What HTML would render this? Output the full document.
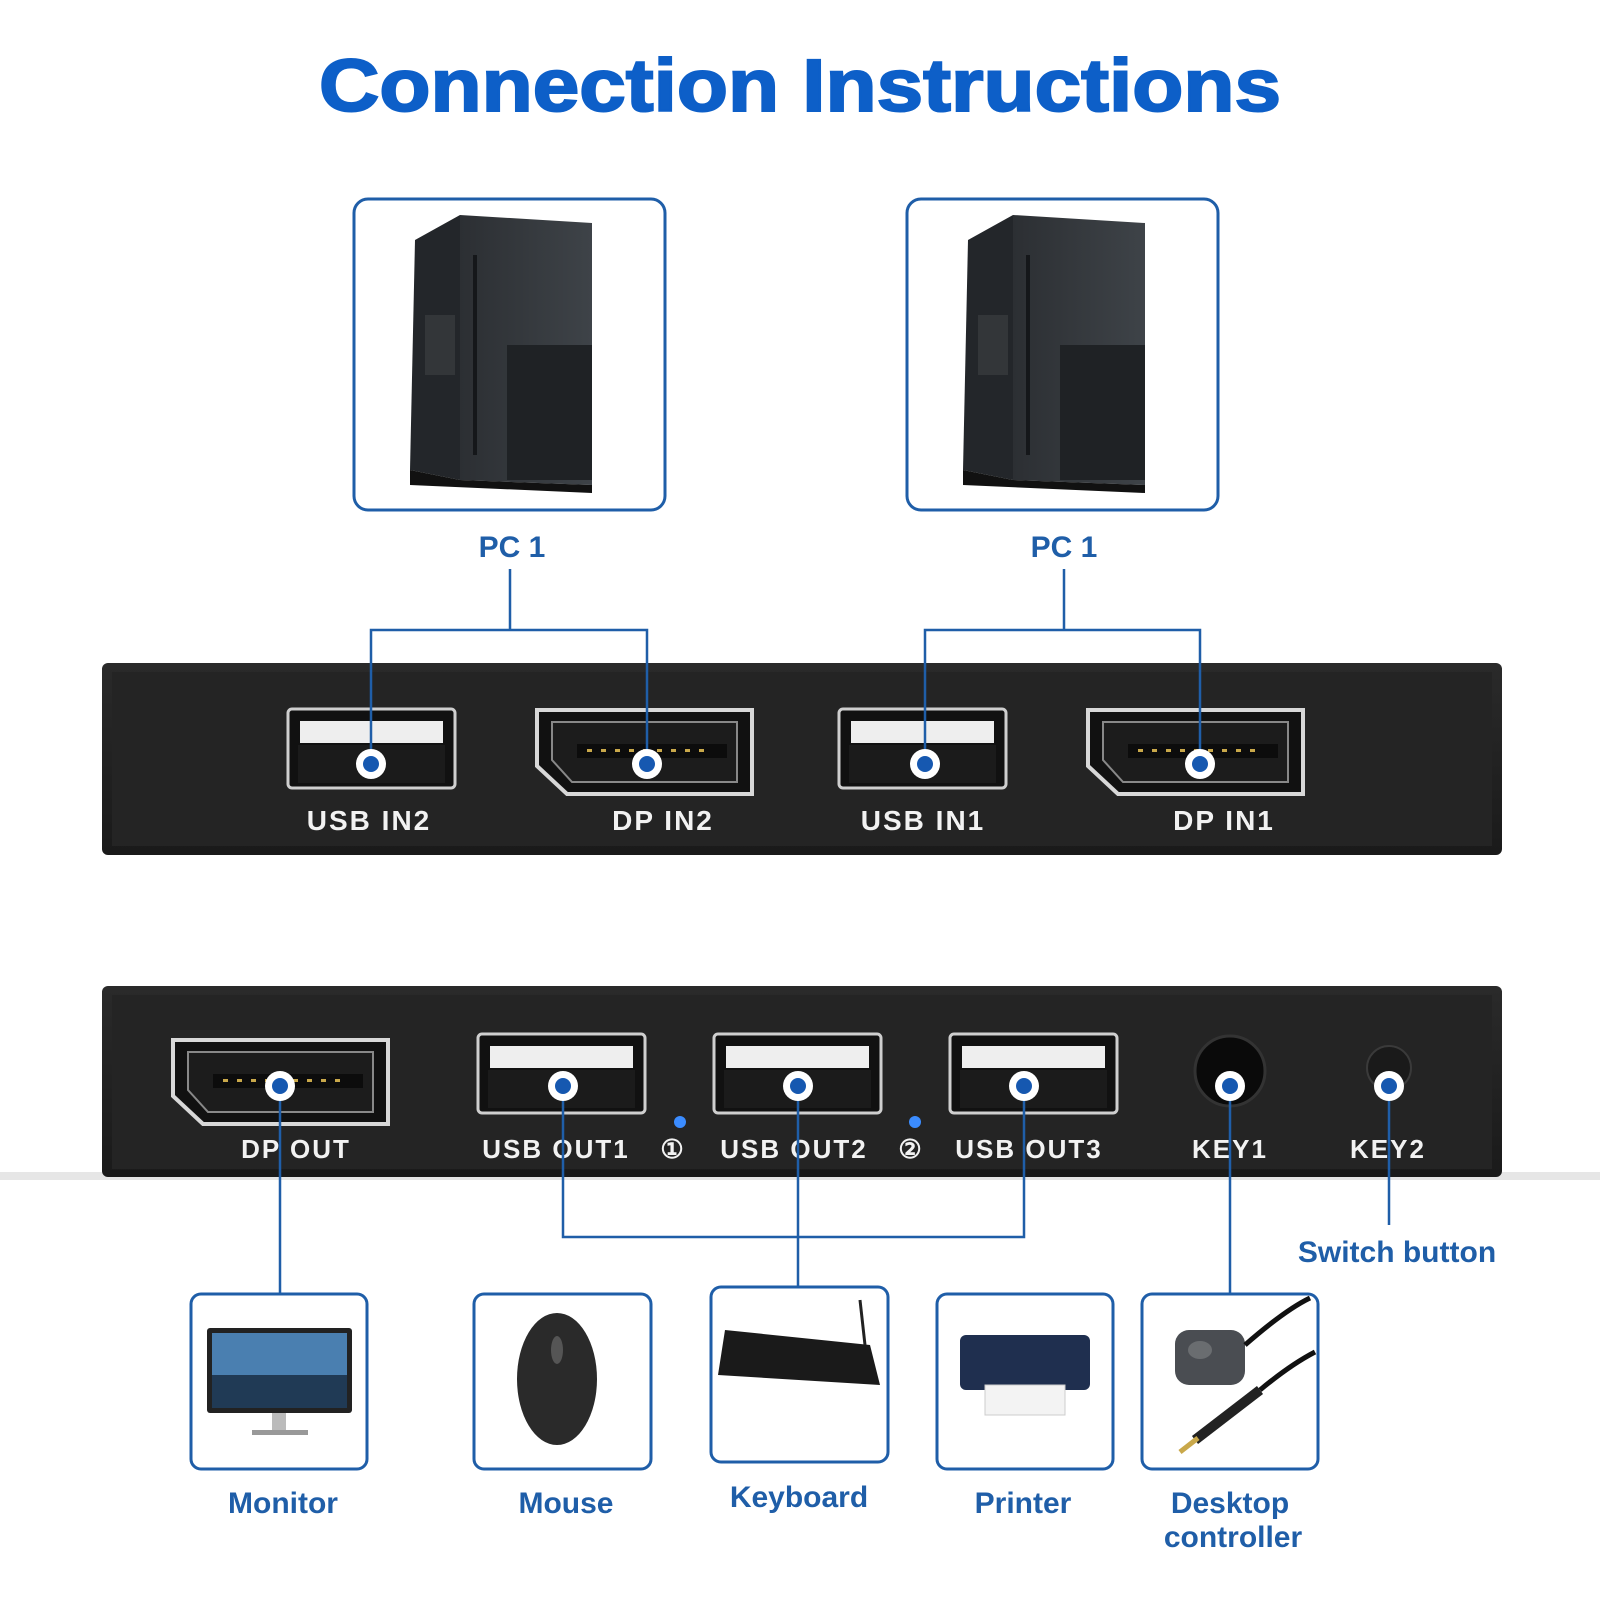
<!DOCTYPE html>
<html><head><meta charset="utf-8"><style>
html,body{margin:0;padding:0;background:#fff;width:1600px;height:1600px;overflow:hidden}
svg{display:block}
</style></head><body>
<svg width="1600" height="1600" viewBox="0 0 1600 1600" xmlns="http://www.w3.org/2000/svg" font-family="Liberation Sans, sans-serif">
<defs>
<linearGradient id="pan" x1="0" y1="0" x2="0" y2="1"><stop offset="0" stop-color="#2a2a2a"/><stop offset="1" stop-color="#1a1a1a"/></linearGradient>
<linearGradient id="tw" x1="0" y1="0" x2="1" y2="0"><stop offset="0" stop-color="#2c2f33"/><stop offset="1" stop-color="#3e4348"/></linearGradient>
<g id="usb"><rect x="0" y="0" width="167" height="79" rx="4" fill="#111" stroke="#cfcfcf" stroke-width="3"/><rect x="12" y="12" width="143" height="22" fill="#eee"/><rect x="10" y="36" width="147" height="38" fill="#1b1b1b"/></g>
<g id="dp"><path d="M10 6 H225 V90 H40 L10 62 Z" fill="#111" stroke="#d8d8d8" stroke-width="4"/><path d="M25 18 H210 V78 H45 L25 56 Z" fill="#1c1c1c" stroke="#888" stroke-width="2"/><rect x="50" y="40" width="150" height="14" fill="#0c0c0c"/><g fill="#c9a84a"><rect x="60" y="45" width="5" height="3"/><rect x="74" y="45" width="5" height="3"/><rect x="88" y="45" width="5" height="3"/><rect x="102" y="45" width="5" height="3"/><rect x="116" y="45" width="5" height="3"/><rect x="130" y="45" width="5" height="3"/><rect x="144" y="45" width="5" height="3"/><rect x="158" y="45" width="5" height="3"/><rect x="172" y="45" width="5" height="3"/></g></g>
<g id="dot"><circle r="15" fill="#fff"/><circle r="8" fill="#1658b0"/></g>
<g id="pc"><polygon points="60,45 105,20 105,285 55,275" fill="#23262a"/><polygon points="105,20 237,28 237,290 105,285" fill="url(#tw)"/><rect x="152" y="150" width="85" height="135" fill="#1f2225"/><rect x="70" y="120" width="30" height="60" fill="#3a3d40" opacity=".7"/><line x1="120" y1="60" x2="120" y2="260" stroke="#15171a" stroke-width="4"/><polygon points="55,275 105,285 237,290 237,298 55,290" fill="#111"/></g>
</defs>

<text x="319" y="111" textLength="962" lengthAdjust="spacingAndGlyphs" font-size="74" font-weight="bold" fill="#0d5fc8" stroke="#0d5fc8" stroke-width="2">Connection Instructions</text>

<!-- PC boxes -->
<rect x="354" y="199" width="311" height="311" rx="14" fill="#fff" stroke="#1f5ea8" stroke-width="3"/>
<rect x="907" y="199" width="311" height="311" rx="14" fill="#fff" stroke="#1f5ea8" stroke-width="3"/>
<use href="#pc" x="355" y="195"/>
<use href="#pc" x="908" y="195"/>
<text x="512" y="557" text-anchor="middle" font-size="30" font-weight="bold" fill="#1f5ea8">PC 1</text>
<text x="1064" y="557" text-anchor="middle" font-size="30" font-weight="bold" fill="#1f5ea8">PC 1</text>

<!-- top panel -->
<rect x="102" y="663" width="1400" height="192" rx="6" fill="url(#pan)"/>
<rect x="112" y="672" width="1380" height="174" fill="#242424"/>
<use href="#usb" x="288" y="709"/>
<use href="#dp" x="527" y="704"/>
<use href="#usb" x="839" y="709"/>
<use href="#dp" x="1078" y="704"/>
<g fill="#f2f2f2" font-size="28" font-weight="bold" text-anchor="middle" letter-spacing="2">
<text x="369" y="830">USB IN2</text><text x="663" y="830">DP IN2</text><text x="923" y="830">USB IN1</text><text x="1224" y="830">DP IN1</text></g>
<g stroke="#1f5ea8" stroke-width="2.5" fill="none">
<path d="M510 569 V630 M371 764 V630 H647 V764"/>
<path d="M1064 569 V630 M925 764 V630 H1200 V764"/>
</g>
<use href="#dot" x="371" y="764"/><use href="#dot" x="647" y="764"/><use href="#dot" x="925" y="764"/><use href="#dot" x="1200" y="764"/>

<!-- bottom panel -->
<rect x="0" y="1172" width="1600" height="8" fill="#e6e6e6"/>
<rect x="102" y="986" width="1400" height="191" rx="6" fill="url(#pan)"/>
<rect x="112" y="995" width="1380" height="174" fill="#242424"/>
<use href="#dp" x="163" y="1034"/>
<use href="#usb" x="478" y="1034"/>
<use href="#usb" x="714" y="1034"/>
<use href="#usb" x="950" y="1034"/>
<circle cx="1230" cy="1071" r="35" fill="#0a0a0a" stroke="#333" stroke-width="3"/>
<circle cx="1389" cy="1068" r="22" fill="#1a1a1a" stroke="#3a3a3a" stroke-width="2"/>
<circle cx="680" cy="1122" r="6" fill="#3b8cff"/><circle cx="915" cy="1122" r="6" fill="#3b8cff"/>
<g fill="#f2f2f2" font-size="26" font-weight="bold" text-anchor="middle" letter-spacing="2">
<text x="296" y="1158">DP OUT</text><text x="556" y="1158">USB OUT1</text><text x="673" y="1158">①</text><text x="794" y="1158">USB OUT2</text><text x="911" y="1158">②</text><text x="1029" y="1158">USB OUT3</text><text x="1230" y="1158">KEY1</text><text x="1388" y="1158">KEY2</text></g>
<g stroke="#1f5ea8" stroke-width="2.5" fill="none">
<path d="M280 1086 V1294"/>
<path d="M563 1086 V1237 H1024 V1086 M798 1086 V1288"/>
<path d="M1230 1086 V1294"/>
<path d="M1389 1086 V1225"/>
</g>
<use href="#dot" x="280" y="1086"/><use href="#dot" x="563" y="1086"/><use href="#dot" x="798" y="1086"/><use href="#dot" x="1024" y="1086"/><use href="#dot" x="1230" y="1086"/><use href="#dot" x="1389" y="1086"/>
<text x="1397" y="1262" text-anchor="middle" font-size="30" font-weight="bold" fill="#1f5ea8">Switch button</text>

<!-- device boxes -->
<g fill="#fff" stroke="#1f5ea8" stroke-width="3">
<rect x="191" y="1294" width="176" height="175" rx="10"/>
<rect x="474" y="1294" width="177" height="175" rx="10"/>
<rect x="711" y="1287" width="177" height="175" rx="10"/>
<rect x="937" y="1294" width="176" height="175" rx="10"/>
<rect x="1142" y="1294" width="176" height="175" rx="10"/>
</g>
<rect x="207" y="1328" width="145" height="85" rx="3" fill="#222"/><rect x="212" y="1333" width="135" height="75" fill="#4a7fb0"/><rect x="212" y="1375" width="135" height="33" fill="#203a55"/>
<rect x="272" y="1413" width="14" height="18" fill="#bbb"/><rect x="252" y="1430" width="56" height="5" fill="#999"/>
<ellipse cx="557" cy="1379" rx="40" ry="66" fill="#2a2a2a"/><ellipse cx="557" cy="1350" rx="6" ry="14" fill="#555"/>
<polygon points="725,1330 870,1345 880,1385 718,1375" fill="#1a1a1a"/><path d="M865 1345 L860 1300" stroke="#222" stroke-width="3"/>
<rect x="960" y="1335" width="130" height="55" rx="6" fill="#1f2f4f"/><rect x="985" y="1385" width="80" height="30" fill="#f3f3f3" stroke="#ccc"/>
<rect x="1175" y="1330" width="70" height="55" rx="14" fill="#4a4d52"/><ellipse cx="1200" cy="1350" rx="12" ry="9" fill="#6a6d70"/>
<path d="M1245 1345 Q1285 1310 1310 1298 M1260 1390 Q1290 1365 1315 1352" stroke="#111" stroke-width="5" fill="none"/>
<path d="M1195 1440 L1260 1390" stroke="#222" stroke-width="10"/><path d="M1180 1452 L1198 1438" stroke="#c9a84a" stroke-width="5"/>

<g fill="#1f5ea8" font-size="30" font-weight="bold" text-anchor="middle">
<text x="283" y="1513">Monitor</text><text x="566" y="1513">Mouse</text><text x="799" y="1507">Keyboard</text><text x="1023" y="1513">Printer</text><text x="1230" y="1513">Desktop</text><text x="1233" y="1547">controller</text></g>
</svg>
</body></html>
